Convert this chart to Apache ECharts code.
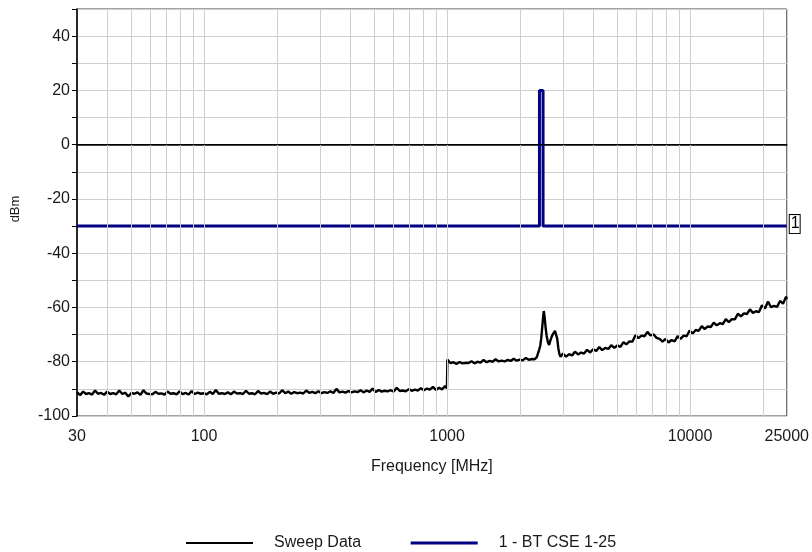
<!DOCTYPE html>
<html>
<head>
<meta charset="utf-8">
<script src="https://cdn.jsdelivr.net/npm/echarts@6/dist/echarts.min.js"></script>
<style>html,body{margin:0;padding:0;background:#fff}#c{width:812px;height:552px}</style>
</head>
<body>
<div id="c"></div>
<script>
// ---- data ----
var sweepFreqMHz = [
30,30.9,31.8,32.7,33.6,34.6,35.6,36.6,37.7,38.8,
39.9,41.1,42.3,43.5,44.8,46.1,47.4,48.8,50.2,51.7,
53.2,54.7,56.3,57.9,59.6,61.3,63.1,64.9,66.8,68.7,
70.7,72.8,74.9,77.1,79.3,81.6,84,86.4,88.9,91.5,
94.2,96.9,99.7,102.6,105.6,108.7,111.8,115,118.4,121.8,
125.3,129,132.7,136.6,140.5,144.6,148.8,153.1,157.5,162.1,
166.8,171.6,176.6,181.7,187,192.4,198,203.7,209.6,215.7,
222,228.4,235,241.8,248.8,256,263.4,271,278.9,287,
295.3,303.9,312.7,321.7,331,340.6,350.5,360.7,371.1,381.9,
393,404.4,416.1,428.2,440.6,453.4,466.5,480,493.9,508.2,
523,538.1,553.7,569.8,586.3,603.3,620.8,638.8,657.3,676.4,
696,716.2,737,758.3,780.3,802.9,826.2,850.2,874.8,900.2,
926.3,953.2,980.8,999,
1003,1032,1062,1093,1125,1157,1191,1225,1261,1297,
1335,1374,1413,1454,1496,1540,1584,1630,1677,1726,
1776,1827,1880,1935,1991,2048,2108,2169,2232,2296,
2340,2370,2395,2420,2440,2460,2480,2500,2520,2545,2570,2600,
2630,2660,2690,2720,2750,2780,2810,2840,2870,2900,2930,2960,
3000,3090,3180,3270,3360,3460,3560,3660,3770,3880,
3990,4110,4230,4350,4480,4610,4740,4880,5020,5170,
5320,5470,5630,5790,5960,6130,6310,6490,6680,6870,
7070,7280,7490,7700,7930,8160,8390,8640,8890,9140,
9410,9680,9960,10250,10550,10850,11170,11490,11820,12170,
12520,12880,13260,13640,14030,14440,14860,15290,15730,16190,
16660,17140,17640,18150,18670,19210,19770,20340,20930,21540,
22160,22800,23460,24140,24840,25000
];
var sweepDbm = [
-91.2,-92.3,-91.0,-91.9,-91.6,-92.1,-90.6,-91.8,-91.5,-92.2,
-91.0,-91.9,-91.6,-92.0,-90.6,-91.9,-91.4,-92.8,-91.5,-91.8,
-91.3,-92.2,-90.5,-91.7,-91.9,-92.0,-91.1,-91.8,-91.7,-92.1,
-91.0,-91.8,-91.6,-92.0,-90.9,-91.9,-91.5,-92.1,-90.8,-91.9,
-91.4,-91.8,-91.6,-92.0,-91.1,-91.9,-90.4,-91.8,-91.6,-91.9,
-91.3,-92.0,-91.0,-91.7,-91.6,-91.9,-90.7,-91.8,-91.6,-92.0,
-90.8,-91.7,-91.5,-91.9,-91.0,-91.8,-91.4,-91.7,-90.5,-91.6,
-91.0,-91.8,-91.2,-91.6,-91.4,-91.7,-90.6,-91.5,-91.1,-91.6,
-90.9,-91.6,-91.2,-91.5,-90.9,-91.5,-90.0,-91.3,-91.0,-91.4,
-90.8,-91.3,-90.9,-91.2,-90.5,-91.3,-90.6,-91.1,-89.9,-91.2,
-90.4,-91.0,-90.7,-90.9,-90.5,-91.0,-89.6,-90.8,-90.6,-90.9,
-90.1,-90.7,-90.3,-90.6,-89.8,-90.5,-89.9,-90.3,-89.3,-90.4,
-89.6,-90.2,-89.0,-89.8,
-79.2,-80.5,-80.2,-80.8,-80.1,-80.6,-80.4,-80.5,-79.8,-80.6,
-80.0,-80.3,-79.3,-80.2,-79.7,-80.0,-79.1,-79.9,-79.6,-79.9,
-79.3,-79.7,-78.9,-79.6,-79.2,-79.5,-78.6,-79.3,-79.0,-79.1,
-78.3,-77.6,-75.5,-74.0,-71.5,-68.0,-64.5,-61.3,-63.5,-67.5,-70.5,-72.8,
-73.8,-72.2,-71.0,-70.0,-69.4,-68.6,-68.2,-71.5,-75.0,-77.2,-78.2,-78.4,
-77.0,-78.1,-77.2,-77.7,-76.3,-77.3,-76.6,-77.0,-75.6,-76.6,
-75.4,-76.0,-74.6,-75.7,-74.9,-75.3,-73.9,-74.9,-74.0,-74.5,
-72.8,-73.6,-72.5,-72.6,-70.2,-71.3,-70.4,-70.6,-69.0,-70.3,
-69.9,-71.2,-71.6,-72.6,-71.6,-72.9,-72.0,-72.5,-70.6,-71.6,
-70.4,-70.6,-68.5,-69.6,-68.3,-68.6,-66.9,-68.0,-67.0,-67.2,
-65.6,-66.6,-65.8,-66.1,-64.3,-65.4,-64.3,-64.4,-62.3,-63.3,
-62.2,-62.4,-60.7,-62.0,-61.4,-61.7,-59.2,-60.4,-57.8,-59.9,
-59.4,-59.8,-57.6,-58.6,-56.0,-57.0
];
var limitFreqMHz = [30, 2400, 2400, 2483.5, 2483.5, 25000];
var limitDbm = [-30, -30, 20, 20, -30, -30];
var xLabelValues = [30, 100, 1000, 10000, 25000];
var xGridValues = [40,50,60,70,80,90,100,200,300,400,500,600,700,800,900,
  1000,2000,3000,4000,5000,6000,7000,8000,9000,10000,20000];
var seriesNames = ['Sweep Data', '1 - BT CSE 1-25'];
var limitTag = '1';

function pairs(xs, ys) { return xs.map(function (x, i) { return [x, ys[i]]; }); }

var FONT = "'Liberation Sans', Arial, sans-serif";
var TXT = '#1a1a1a';
var chart = echarts.init(document.getElementById('c'), null, {renderer: 'canvas'});
var gridMarks = xGridValues.map(function (v) {
  return {xAxis: v, lineStyle: {color: '#cfcfcf', width: 1, type: 'solid'}};
});
gridMarks.push({yAxis: 0, lineStyle: {color: '#000', width: 1, type: 'solid'}});

chart.setOption({
  animation: false,
  backgroundColor: '#fff',
  grid: {left: 77, right: 25, top: 9, bottom: 136, show: true, borderColor: '#444', borderWidth: 1},
  xAxis: {
    type: 'log', logBase: 10, min: 30, max: 25000,
    name: 'Frequency [MHz]', nameLocation: 'middle', nameGap: 43,
    nameTextStyle: {fontFamily: FONT, fontSize: 16, color: TXT},
    axisLine: {show: true, lineStyle: {color: '#000', width: 1.5}},
    axisTick: {show: false},
    splitLine: {show: false},
    minorSplitLine: {show: false},
    axisLabel: {customValues: xLabelValues, margin: 13, fontFamily: FONT, fontSize: 16, color: TXT,
      formatter: function (v) { return String(Math.round(v)); }}
  },
  yAxis: {
    type: 'value', min: -100, max: 50, interval: 10,
    name: 'dBm', nameLocation: 'middle', nameGap: 55,
    nameTextStyle: {fontFamily: FONT, fontSize: 13, color: TXT, padding: [0, 0, 0, 7]},
    axisLine: {show: true, lineStyle: {color: '#000', width: 1.5}},
    axisTick: {show: true, length: 5, lineStyle: {color: '#000', width: 1}},
    splitLine: {show: true, lineStyle: {color: '#cfcfcf', width: 1}},
    axisLabel: {margin: 7, fontFamily: FONT, fontSize: 16, color: TXT,
      formatter: function (v) { return (v % 20 === 0 && v < 50) ? String(v) : ''; }}
  },
  legend: {
    data: [
      {name: seriesNames[0], lineStyle: {width: 2}},
      {name: seriesNames[1], lineStyle: {width: 3}}
    ],
    left: 180, top: 530,
    itemWidth: 67, itemHeight: 2, itemGap: 48,
    textStyle: {fontFamily: FONT, fontSize: 16, color: TXT, padding: [0, 0, 0, 16]}
  },
  series: [
    {
      name: 'grid', type: 'line', data: [], z: 1, silent: true,
      markLine: {silent: true, symbol: 'none', label: {show: false}, animation: false, data: gridMarks}
    },
    {
      name: seriesNames[0], type: 'line', data: pairs(sweepFreqMHz, sweepDbm), z: 3,
      symbol: 'none', showSymbol: false, color: '#000',
      lineStyle: {color: '#000', width: 2.4}
    },
    {
      name: seriesNames[1], type: 'line', data: pairs(limitFreqMHz, limitDbm), z: 4,
      symbol: 'none', showSymbol: false, color: '#000080',
      lineStyle: {color: '#000080', width: 3},
      endLabel: {show: true, formatter: limitTag, distance: 3, offset: [0, -2], fontFamily: FONT, fontSize: 16, color: '#000',
        backgroundColor: '#fff', borderColor: '#000', borderWidth: 1, padding: [1, 0, 1, 1]}
    }
  ]
});
</script>
</body>
</html>
